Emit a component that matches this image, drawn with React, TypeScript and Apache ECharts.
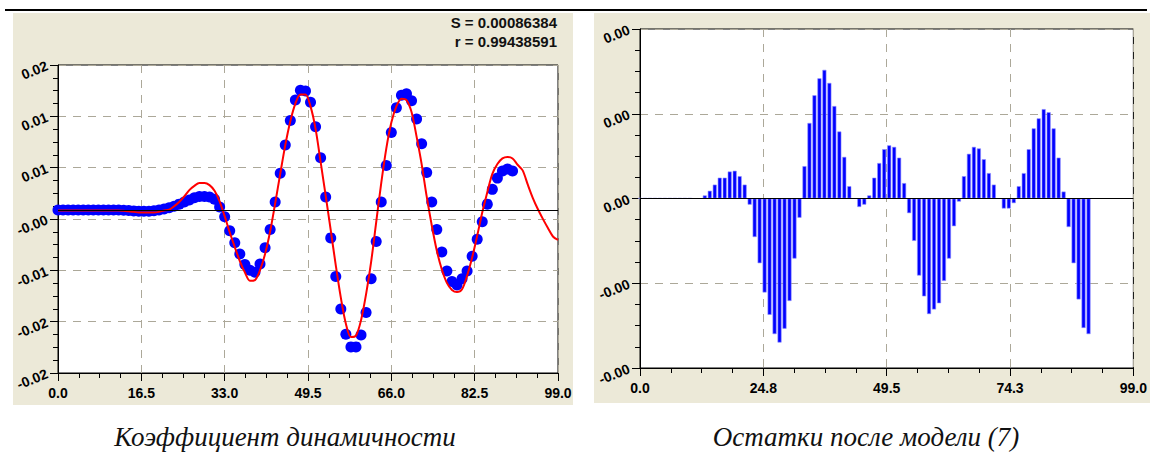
import React, { useEffect, useRef } from "react";
import * as echarts from "echarts";

// Left chart: measured values (blue dots), x = 0..90
const dotValues = [
  -0.00005, -0.00005, -0.00005, -0.00005, -0.00005, -0.00005, -0.00005, -0.00005, -0.00005, -0.00005,
  -0.00005, -0.00005, -0.00005, -0.00008, -0.00012, -0.00016, -0.0002, -0.0002, -0.0002, -0.00015,
  -0.00004, 0.0001, 0.0003, 0.0005, 0.0008, 0.0011, 0.0014, 0.0017, 0.0019, 0.0019,
  0.0018, 0.0015, 0.0004, -0.001, -0.003, -0.0047, -0.0063, -0.0078, -0.0086, -0.0089,
  -0.0077, -0.0054, -0.0028, 0.0011, 0.0052, 0.0092, 0.0127, 0.0156, 0.017, 0.0169,
  0.0153, 0.0118, 0.0074, 0.0018, -0.004, -0.0095, -0.0141, -0.0177, -0.0195, -0.0195,
  -0.0178, -0.0146, -0.0098, -0.0045, 0.0011, 0.0063, 0.011, 0.0145, 0.0163, 0.0165,
  0.0155, 0.0129, 0.0094, 0.0053, 0.0011, -0.0028, -0.006, -0.0087, -0.0102, -0.0107,
  -0.0098, -0.0087, -0.0066, -0.0042, -0.0017, 0.0008, 0.0029, 0.0045, 0.0055, 0.0058,
  0.0055,
];

// Left chart: model curve (red line), x = 0..99
const modelValues = [
  -0.0001, -0.0001, -0.0001, -0.0001, -0.0001, -0.0001, -0.0001, -0.0001, -0.0001, -0.0001,
  -0.0001, -0.0001, -0.0001, -0.00015, -0.0002, -0.0003, -0.0004, -0.0004, -0.0004, -0.0004,
  -0.0003, -0.0001, 0.0, 0.0005, 0.0011, 0.0019, 0.0028, 0.0034, 0.0038, 0.0038,
  0.0035, 0.0027, 0.0012, -0.0009, -0.0032, -0.0053, -0.0073, -0.0089, -0.0101, -0.01,
  -0.0086, -0.0063, -0.0031, 0.0009, 0.0051, 0.0092, 0.0126, 0.0151, 0.0164, 0.0164,
  0.0147, 0.0115, 0.0068, 0.002, -0.0029, -0.0079, -0.0125, -0.0162, -0.0181, -0.0179,
  -0.0157, -0.012, -0.0074, -0.0018, 0.0038, 0.0087, 0.0124, 0.0147, 0.0158, 0.0156,
  0.0139, 0.0104, 0.0065, 0.0019, -0.0022, -0.0058, -0.0085, -0.0104, -0.0114, -0.0117,
  -0.0113, -0.0094, -0.0068, -0.0037, -0.0004, 0.0025, 0.0051, 0.0065, 0.0073, 0.0075,
  0.0073, 0.0064, 0.0056, 0.0036, 0.0017, 0.0001, -0.0013, -0.0026, -0.0038, -0.0043,
];

// Right chart: residuals, x = 0..90
const residualValues = [
  0.000004, 0.000004, 0.000004, 0.000004, 0.000004, 0.000004, 0.000004, 0.000004, 0.000004, 0.000004,
  0.000004, 0, 0, 0.00004, 0.0001, 0.00018, 0.00027, 0.00027, 0.00035, 0.00036,
  0.00029, 0.00018, -0.00008, -0.0005, -0.00084, -0.00122, -0.00151, -0.00176, -0.00187, -0.00169,
  -0.00133, -0.00078, -0.00025, 0.00042, 0.00098, 0.00134, 0.00156, 0.00167, 0.0015, 0.0012,
  0.00087, 0.00054, 0.00016, 0, -0.00011, -0.00008, 0.00004, 0.00027, 0.00046, 0.00064,
  0.00069, 0.00067, 0.00053, 0.0002, -0.00019, -0.00055, -0.001, -0.00127, -0.0015, -0.00144,
  -0.00136, -0.00107, -0.00078, -0.00036, -0.00004, 0.00029, 0.00058, 0.00067, 0.00065, 0.00051,
  0.00033, 0.00018, 0, -0.00013, -0.00013, -0.00006, 0.00016, 0.00033, 0.00064, 0.00091,
  0.00104, 0.00116, 0.00112, 0.00091, 0.00053, 0.00009, -0.00037, -0.00084, -0.00131, -0.00168,
  -0.00176,
];

const statsLines = ["S = 0.00086384", "r = 0.99438591"];
const leftTitle = "Коэффициент динамичности";
const rightTitle = "Остатки после модели (7)";

const leftX = { min: 0, max: 99, interval: 16.5 };
const leftY = { min: -0.023214, max: 0.020586, interval: 0.0073 };
const rightX = { min: 0, max: 99, interval: 24.75 };
const rightY = { min: -0.0022, max: 0.0022, interval: 0.0011 };

const BEIGE = "#ECE9D8";
const GRIDC = "#aca899";
const LABEL_FONT = "Liberation Sans";

function fmt2(v: number) {
  if (Math.abs(v) < 1e-12) return "0.00";
  return v.toFixed(2);
}

function xAxisCfg(idx: number, r: { min: number; max: number; interval: number }) {
  return {
    type: "value",
    gridIndex: idx,
    min: r.min,
    max: r.max,
    interval: r.interval,
    axisLine: { show: true, onZero: false, lineStyle: { color: "#000", width: 1 } },
    axisTick: { show: true, length: 8, lineStyle: { color: "#000" } },
    minorTick: { show: true, splitNumber: 4, length: 5, lineStyle: { color: "#000" } },
    splitLine: { show: true, lineStyle: { color: GRIDC, type: [8, 7], width: 1 } },
    axisLabel: {
      formatter: (v: number) => v.toFixed(1),
      fontFamily: LABEL_FONT,
      fontWeight: "bold",
      fontSize: 14,
      color: "#000",
      margin: 13,
    },
  };
}

function yAxisCfg(idx: number, r: { min: number; max: number; interval: number }) {
  return {
    type: "value",
    gridIndex: idx,
    min: r.min,
    max: r.max,
    interval: r.interval,
    axisLine: { show: true, onZero: false, lineStyle: { color: "#000", width: 1 } },
    axisTick: { show: true, length: 8, lineStyle: { color: "#000" } },
    minorTick: { show: true, splitNumber: 4, length: 5, lineStyle: { color: "#000" } },
    splitLine: { show: true, lineStyle: { color: GRIDC, type: [8, 7], width: 1 } },
    axisLabel: {
      formatter: fmt2,
      fontFamily: LABEL_FONT,
      fontWeight: "bold",
      fontSize: 14,
      color: "#000",
      rotate: 22,
      margin: 11,
    },
  };
}

function textEl(text: string, x: number, y: number, align: string, size: number, weight: string, style: string, family: string) {
  return {
    type: "text",
    z: 5,
    x,
    y,
    style: {
      text,
      textAlign: align,
      textVerticalAlign: "middle",
      fontSize: size,
      fontWeight: weight,
      fontStyle: style,
      fontFamily: family,
      fill: "#111",
    },
  };
}

export default function App() {
  const ref = useRef<HTMLDivElement>(null);

  useEffect(() => {
    if (!ref.current) return;
    const chart = echarts.init(ref.current, null, { renderer: "svg" });

    const dots = dotValues.map((v, i) => [i, v]);
    const model = modelValues.map((v, i) => [i, v]);
    const resid = residualValues.map((v, i) => [i, v]);

    const option: any = {
      animation: false,
      backgroundColor: "#fff",
      grid: [
        { left: 58, top: 65, width: 500, height: 308, show: true, backgroundColor: "#fff", borderColor: "#000", borderWidth: 1, containLabel: false },
        { left: 640, top: 29, width: 497, height: 339, show: true, backgroundColor: "#fff", borderColor: "#000", borderWidth: 1, containLabel: false },
      ],
      xAxis: [xAxisCfg(0, leftX), xAxisCfg(1, rightX)],
      yAxis: [yAxisCfg(0, leftY), yAxisCfg(1, rightY)],
      series: [
        {
          type: "scatter",
          xAxisIndex: 0,
          yAxisIndex: 0,
          data: dots,
          symbol: "circle",
          symbolSize: 11,
          itemStyle: { color: "#0000ff", opacity: 1 },
          z: 2,
          markLine: {
            silent: true,
            symbol: "none",
            label: { show: false },
            lineStyle: { color: "#000", width: 1, type: "solid" },
            data: [{ yAxis: 0 }],
          },
        },
        {
          type: "line",
          xAxisIndex: 0,
          yAxisIndex: 0,
          data: model,
          showSymbol: false,
          smooth: 0.3,
          lineStyle: { color: "#ff0000", width: 2 },
          z: 3,
        },
        {
          type: "bar",
          xAxisIndex: 1,
          yAxisIndex: 1,
          data: resid,
          barWidth: 4,
          itemStyle: { color: "#0000ff", borderColor: "#9090ff", borderWidth: 0.6 },
          markLine: {
            silent: true,
            symbol: "none",
            label: { show: false },
            lineStyle: { color: "#000", width: 1.2, type: "solid" },
            data: [{ yAxis: 0 }],
          },
        },
      ],
      graphic: [
        { type: "rect", z: -10, shape: { x: 13, y: 13, width: 560, height: 392 }, style: { fill: BEIGE } },
        { type: "rect", z: -10, shape: { x: 594, y: 13, width: 556, height: 390 }, style: { fill: BEIGE } },
        { type: "line", z: 5, shape: { x1: 5, y1: 10, x2: 1147, y2: 10 }, style: { stroke: "#000", lineWidth: 2 } },
        textEl(statsLines[0], 557, 22, "right", 15, "bold", "normal", LABEL_FONT),
        textEl(statsLines[1], 557, 41, "right", 15, "bold", "normal", LABEL_FONT),
        textEl(leftTitle, 285, 437, "center", 27, "normal", "italic", "Liberation Serif"),
        textEl(rightTitle, 866, 437, "center", 27, "normal", "italic", "Liberation Serif"),
      ],
    };

    chart.setOption(option);
    return () => chart.dispose();
  }, []);

  return (
    <div
      ref={ref}
      style={{ position: "absolute", left: 0, top: 0, width: 1150, height: 452 }}
    />
  );
}
